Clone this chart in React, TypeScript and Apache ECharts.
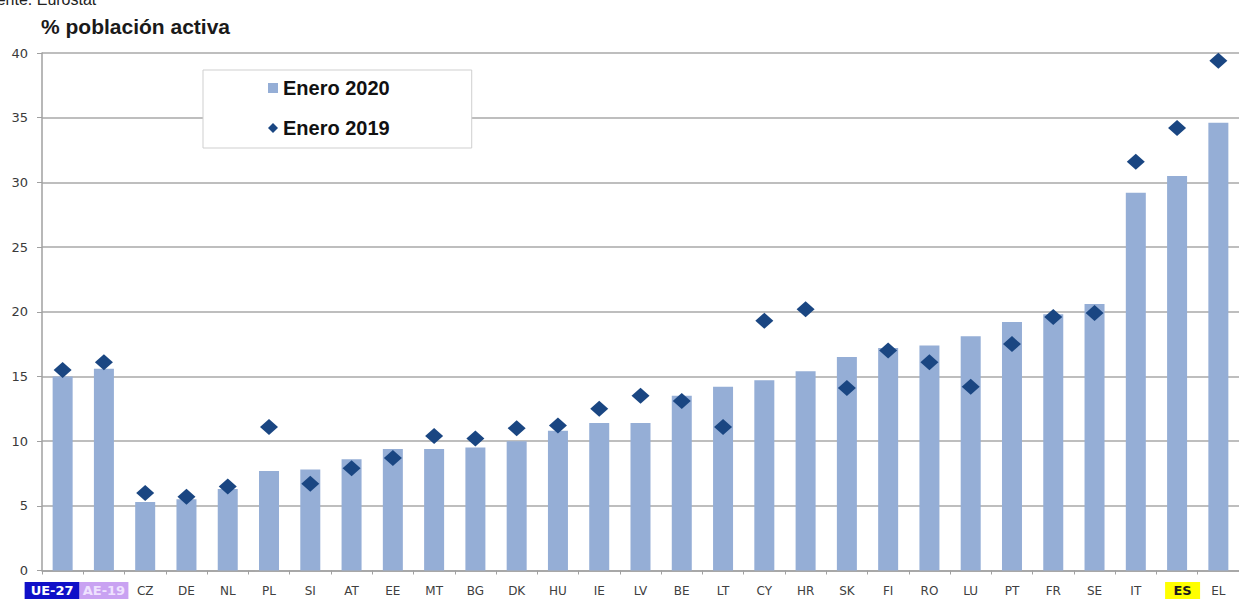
import React, { useEffect, useRef } from "react";
import * as echarts from "echarts";

const categories = ["UE-27", "AE-19", "CZ", "DE", "NL", "PL", "SI", "AT", "EE", "MT", "BG", "DK", "HU", "IE", "LV", "BE", "LT", "CY", "HR", "SK", "FI", "RO", "LU", "PT", "FR", "SE", "IT", "ES", "EL"];
const enero2020 = [15.0, 15.6, 5.3, 5.5, 6.3, 7.7, 7.8, 8.6, 9.4, 9.4, 9.5, 10.0, 10.8, 11.4, 11.4, 13.5, 14.2, 14.7, 15.4, 16.5, 17.2, 17.4, 18.1, 19.2, 19.8, 20.6, 29.2, 30.5, 34.6];
const enero2019 = [15.5, 16.1, 6.0, 5.7, 6.5, 11.1, 6.7, 7.9, 8.7, 10.4, 10.2, 11.0, 11.2, 12.5, 13.5, 13.1, 11.1, 19.3, 20.2, 14.1, 17.0, 16.1, 14.2, 17.5, 19.6, 19.9, 31.6, 34.2, 39.4];
const yTicks = { min: 0, max: 40, interval: 5 };
const titleText = "% población activa";
const sourceText = "Fuente: Eurostat";
const seriesNames = ["Enero 2020", "Enero 2019"];

export default function App() {
  const ref = useRef<HTMLDivElement>(null);
  useEffect(() => {
    if (!ref.current) return;
    const chart = echarts.init(ref.current, null, { renderer: "svg" });
    chart.setOption({
      animation: false,
      backgroundColor: "#ffffff",
      textStyle: { fontFamily: "Arial, 'Liberation Sans', sans-serif" },
      grid: { left: 42, right: -9, top: 53, bottom: 28, containLabel: false },
      graphic: [
        {
          type: "text",
          left: -22,
          top: -9,
          style: { text: sourceText, fontSize: 16, fill: "#222", fontFamily: "Arial, 'Liberation Sans', sans-serif" },
        },
        {
          type: "text",
          left: 41,
          top: 16,
          style: { text: titleText, fontSize: 21, fontWeight: "bold", fill: "#1a1a1a", fontFamily: "Arial, 'Liberation Sans', sans-serif" },
        },
      ],
      legend: {
        orient: "vertical",
        left: 203,
        top: 70,
        padding: [7, 82, 9, 65],
        itemGap: 18,
        itemWidth: 10,
        itemHeight: 10,
        backgroundColor: "#ffffff",
        borderColor: "#cfcfcf",
        borderWidth: 1,
        textStyle: { fontSize: 20, fontWeight: "bold", color: "#111", lineHeight: 22, fontFamily: "Arial, 'Liberation Sans', sans-serif" },
        data: [
          { name: seriesNames[0], icon: "rect" },
          { name: seriesNames[1], icon: "diamond" },
        ],
      },
      xAxis: {
        type: "category",
        data: categories,
        boundaryGap: true,
        axisLine: { show: true, lineStyle: { color: "#a0a0a0", width: 1.5 } },
        axisTick: { show: true, length: 4, interval: 0, lineStyle: { color: "#a0a0a0" } },
        axisLabel: {
          interval: 0,
          margin: 13,
          fontSize: 12,
          lineHeight: 14,
          color: "#404040",
          fontFamily: "'DejaVu Sans', Verdana, sans-serif",
          formatter: (v: string) => {
            if (v === "UE-27") return "{ue|UE-27}{sp|}";
            if (v === "AE-19") return "{ae|AE-19}";
            if (v === "ES") return "{sp2|}{es|ES}";
            return v;
          },
          rich: {
            ue: { backgroundColor: "#1010c8", color: "#ffffff", fontWeight: "bold", fontSize: 13, width: 55, align: "center", padding: [2, 0, 2, 0], fontFamily: "'DejaVu Sans', Verdana, sans-serif" },
            sp: { width: 21 },
            ae: { backgroundColor: "#c9a2f2", color: "#efe2ff", fontWeight: "bold", fontSize: 13, width: 49, align: "center", padding: [2, 0, 2, 0], fontFamily: "'DejaVu Sans', Verdana, sans-serif" },
            sp2: { width: 11 },
            es: { backgroundColor: "#ffff00", color: "#1a1a1a", fontWeight: "bold", fontSize: 13, width: 35, align: "center", padding: [2, 0, 2, 0], fontFamily: "'DejaVu Sans', Verdana, sans-serif" },
          },
        },
      },
      yAxis: {
        type: "value",
        min: yTicks.min,
        max: yTicks.max,
        interval: yTicks.interval,
        axisLine: { show: true, lineStyle: { color: "#a0a0a0", width: 1.5 } },
        axisTick: { show: true, length: 5, lineStyle: { color: "#a0a0a0" } },
        axisLabel: { margin: 14, fontSize: 13, color: "#3a3a3a", fontFamily: "'DejaVu Sans', Verdana, sans-serif" },
        splitLine: { show: true, lineStyle: { color: "#a8a8a8", width: 1.5 } },
      },
      series: [
        {
          name: seriesNames[0],
          type: "bar",
          data: enero2020,
          barWidth: 20,
          itemStyle: { color: "#95aed6" },
          z: 2,
        },
        {
          name: seriesNames[1],
          type: "scatter",
          data: enero2019,
          symbol: "diamond",
          symbolSize: [18, 16],
          itemStyle: { color: "#1a4682", opacity: 1 },
          z: 3,
        },
      ],
    });
    return () => chart.dispose();
  }, []);
  return <div ref={ref} style={{ position: "fixed", left: 0, top: 0, width: 1239, height: 599 }} />;
}
